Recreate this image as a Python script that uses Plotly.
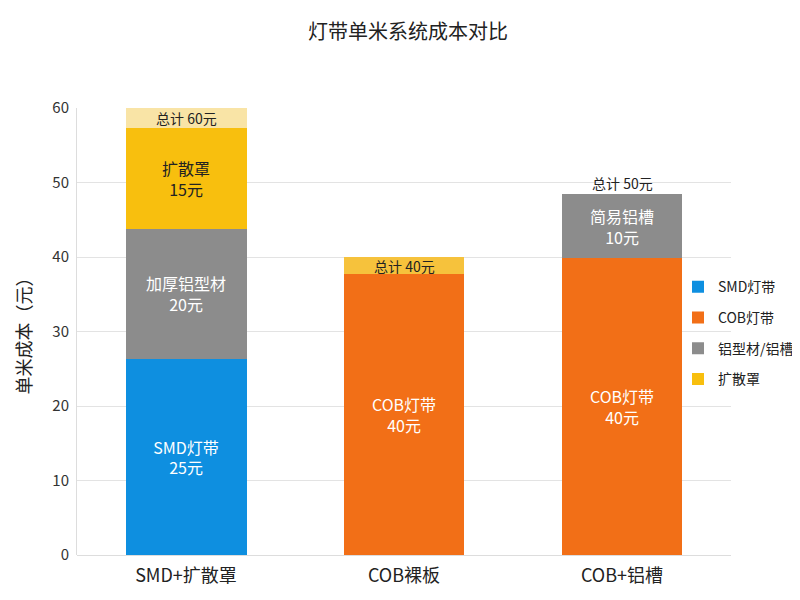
import plotly.graph_objects as go

categories = ["SMD+扩散罩", "COB裸板", "COB+铝槽"]

# segment heights as drawn in the picture
smd_strip = [26.3, 0, 0]
cob_strip = [0, 37.7, 39.8]
alu_profile = [17.5, 0, 8.6]
diffuser = [13.5, 0, 0]
total_cap = [2.7, 2.3, 0]

smd_text = ["SMD灯带<br>25元", "", ""]
cob_text = ["", "COB灯带<br>40元", "COB灯带<br>40元"]
alu_text = ["加厚铝型材<br>20元", "", "简易铝槽<br>10元"]
diffuser_text = ["扩散罩<br>15元", "", ""]
cap_text = ["总计 60元", "总计 40元", ""]
outside_total = 50

FONT = "Noto Sans CJK SC"

fig = go.Figure()


def add_seg(y, name, color, text, txtcolor, legend=True):
    fig.add_trace(go.Bar(
        x=categories, y=y, name=name, marker_color=color,
        marker_line_width=0, text=text, textposition="inside",
        insidetextanchor="middle", textangle=0,
        textfont=dict(family=FONT, size=16, color=txtcolor),
        showlegend=legend, legendgroup=name,
        hoverinfo="skip", width=0.555,
    ))


add_seg(smd_strip, "SMD灯带", "#0E8FE0", smd_text, "white")
add_seg(cob_strip, "COB灯带", "#F26F17", cob_text, "white")
add_seg(alu_profile, "铝型材/铝槽", "#8C8C8C", alu_text, "white")
add_seg(diffuser, "扩散罩", "#F8BF0E", diffuser_text, "#222222")
add_seg(total_cap, "总计", ["#F9E4A6", "#F6C23C", "#F6C23C"],
        ["", "", ""], "#222222", legend=False)

# cap labels (as annotations so they keep their size)
for i, txt in enumerate(cap_text):
    if not txt:
        continue
    below = smd_strip[i] + cob_strip[i] + alu_profile[i] + diffuser[i]
    fig.add_annotation(x=categories[i], y=below + total_cap[i] / 2, text=txt,
                       showarrow=False, yanchor="middle",
                       font=dict(family=FONT, size=14, color="#222222"))

# total label above the third bar
fig.add_annotation(x=categories[2], y=outside_total, text="总计 50元",
                   showarrow=False, yanchor="middle",
                   font=dict(family=FONT, size=14, color="#222222"))

fig.update_layout(
    barmode="stack",
    width=800, height=600,
    margin=dict(l=69, r=77, t=100, b=53, autoexpand=False),
    paper_bgcolor="white", plot_bgcolor="white",
    font=dict(family=FONT, color="#222222"),
    title=dict(text="灯带单米系统成本对比", x=0.5, xanchor="center",
               y=1 - 24 / 600, yanchor="middle",
               font=dict(size=20, color="#222222")),
    legend=dict(xref="container", yref="container",
                x=0.8375, y=0.458, xanchor="left", yanchor="middle",
                font=dict(family=FONT, size=14, color="#222222"),
                bgcolor="rgba(0,0,0,0)", tracegroupgap=9.5,
                traceorder="grouped"),
)

fig.update_xaxes(
    tickfont=dict(family=FONT, size=18, color="#222222"),
    showline=False, ticks="", ticklabelstandoff=8,
)

fig.update_yaxes(
    range=[0, 60], dtick=10,
    title=dict(text="单米成本（元）", font=dict(family=FONT, size=18, color="#222222"),
               standoff=16),
    tickfont=dict(family=FONT, size=15, color="#333333"),
    ticklabelstandoff=4,
    gridcolor="#E3E3E3", gridwidth=1,
    showline=True, linecolor="#DDDDDD", linewidth=1,
    zeroline=True, zerolinecolor="#DDDDDD", zerolinewidth=1,
)

fig.write_html("out.html")
